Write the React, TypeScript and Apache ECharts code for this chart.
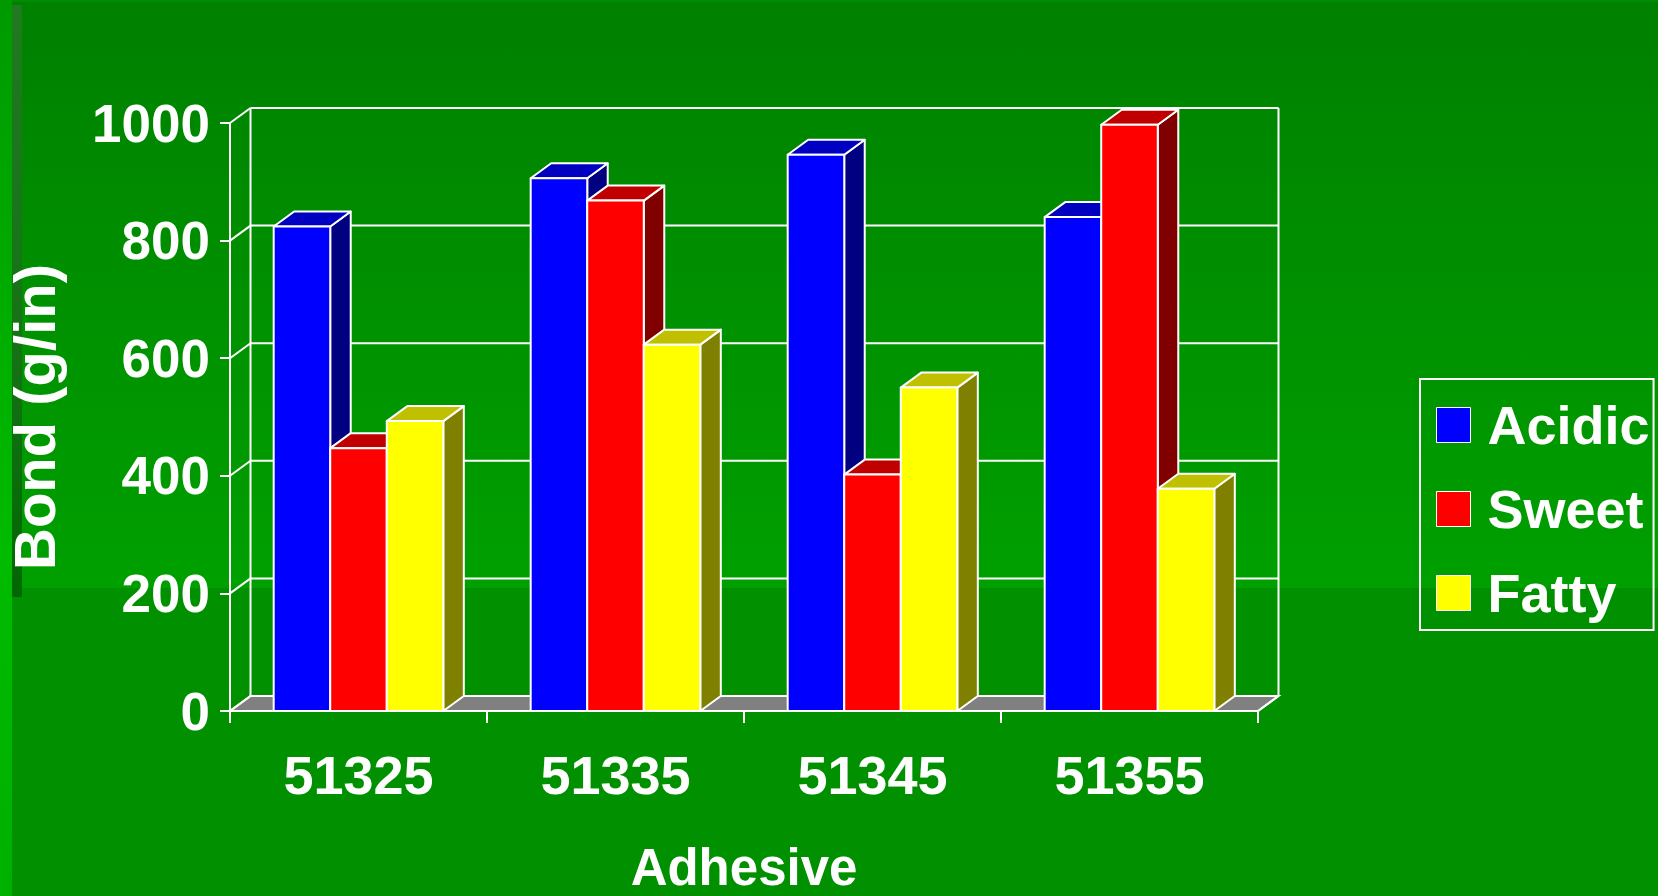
import React, { useEffect, useRef } from "react";
import * as echarts from "echarts";

// ---- data ----
const categories = ["51325", "51335", "51345", "51355"];
const seriesNames = ["Acidic", "Sweet", "Fatty"];
const acidic = [824, 906, 946, 840];
const sweet = [447, 868, 402, 997];
const fatty = [493, 623, 550, 378];
const yTicks = [0, 200, 400, 600, 800, 1000];
const seriesValues = [acidic, sweet, fatty];

// ---- styles ----
const FRONT = ["#0000FF", "#FF0000", "#FFFF00"];
const TOP = ["#0000C0", "#C00000", "#C0C000"];
const SIDE = ["#000080", "#800000", "#808000"];
const DX = 20.5;
const DY = -15;
const BAR_FRAC = 0.22;
const FONT = "'Liberation Sans', Arial, Helvetica, sans-serif";

const lineStyle = { stroke: "#ffffff", lineWidth: 2 };

function frameRender(params: any, api: any) {
  const band = api.size([1, 0])[0];
  const xL = api.coord([0, 0])[0] - band / 2;
  const xR = api.coord([categories.length - 1, 0])[0] + band / 2;
  const y0 = api.coord([0, yTicks[0]])[1];
  const yMax = api.coord([0, yTicks[yTicks.length - 1]])[1];
  const children: any[] = [];
  children.push({
    type: "polygon",
    shape: { points: [[xL, y0], [xR, y0], [xR + DX, y0 + DY], [xL + DX, y0 + DY]] },
    style: { fill: "#808080", ...lineStyle },
  });
  yTicks.forEach((t) => {
    const y = api.coord([0, t])[1];
    children.push({ type: "line", shape: { x1: xL, y1: y, x2: xL + DX, y2: y + DY }, style: lineStyle });
    children.push({ type: "line", shape: { x1: xL + DX, y1: y + DY, x2: xR + DX, y2: y + DY }, style: lineStyle });
  });
  children.push({ type: "line", shape: { x1: xL + DX, y1: y0 + DY, x2: xL + DX, y2: yMax + DY }, style: lineStyle });
  children.push({ type: "line", shape: { x1: xR + DX, y1: y0 + DY, x2: xR + DX, y2: yMax + DY }, style: lineStyle });
  children.push({ type: "line", shape: { x1: xR, y1: y0, x2: xR + DX, y2: y0 + DY }, style: lineStyle });
  return { type: "group", children };
}

const makeBarRender = (s: number) => (params: any, api: any) => {
  const idx = api.value(0);
  const v = api.value(1);
  const top = api.coord([idx, v]);
  const base = api.coord([idx, 0]);
  const band = api.size([1, 0])[0];
  const w = band * BAR_FRAC;
  const x0 = top[0] + (s - 1.5) * w;
  const yT = top[1];
  const yB = base[1];
  const st = { stroke: "#ffffff", lineWidth: 2, lineJoin: "round" };
  return {
    type: "group",
    children: [
      {
        type: "polygon",
        shape: { points: [[x0 + w, yT], [x0 + w + DX, yT + DY], [x0 + w + DX, yB + DY], [x0 + w, yB]] },
        style: { fill: SIDE[s], ...st },
      },
      {
        type: "polygon",
        shape: { points: [[x0, yT], [x0 + w, yT], [x0 + w + DX, yT + DY], [x0 + DX, yT + DY]] },
        style: { fill: TOP[s], ...st },
      },
      {
        type: "rect",
        shape: { x: x0, y: yT, width: w, height: yB - yT },
        style: { fill: FRONT[s], ...st },
      },
    ],
  };
};

export default function App() {
  const ref = useRef<HTMLDivElement>(null);
  useEffect(() => {
    if (!ref.current) return;
    const chart = echarts.init(ref.current, undefined, { renderer: "svg" });
    const textBase = { color: "#ffffff", fontWeight: "bold" as const, fontFamily: FONT };
    const option: any = {
      animation: false,
      backgroundColor: "#009000",
      graphic: {
        elements: [
          {
            type: "rect", z: -10, silent: true,
            shape: { x: 0, y: 0, width: 1658, height: 588 },
            style: {
              fill: new echarts.graphic.LinearGradient(0, 0, 0, 1, [
                { offset: 0, color: "#008000" },
                { offset: 1, color: "#00A000" },
              ]),
            },
          },
          {
            type: "rect", z: -10, silent: true,
            shape: { x: 0, y: 0, width: 1658, height: 2 },
            style: { fill: "#008c00" },
          },
          {
            type: "rect", z: -10, silent: true,
            shape: { x: 0, y: 588, width: 1658, height: 308 },
            style: { fill: "#009000" },
          },
          {
            type: "rect", z: -9, silent: true,
            shape: { x: 0, y: 0, width: 12, height: 896 },
            style: {
              fill: new echarts.graphic.LinearGradient(0, 0, 0, 1, [
                { offset: 0, color: "#009a00" },
                { offset: 0.62, color: "#00bb00" },
                { offset: 1, color: "#00b000" },
              ]),
            },
          },
          {
            type: "rect", z: -9, silent: true,
            shape: { x: 12, y: 5, width: 10, height: 592 },
            style: {
              fill: new echarts.graphic.LinearGradient(0, 0, 0, 1, [
                { offset: 0, color: "#207a20" },
                { offset: 0.6, color: "#147214" },
                { offset: 1, color: "#006800" },
              ]),
            },
          },
        ],
      },
      legend: {
        orient: "vertical",
        left: 1420,
        top: 379,
        selectedMode: false,
        data: seriesNames.map((n, i) => ({
          name: n,
          icon: "rect",
          itemStyle: { color: FRONT[i], borderColor: "#ffffff", borderWidth: 1 },
        })),
        itemWidth: 34,
        itemHeight: 35,
        itemGap: 30,
        padding: [19, 4, 10, 16],
        borderColor: "#ffffff",
        borderWidth: 2,
        textStyle: { ...textBase, fontSize: 54, padding: [0, 0, 0, 12] },
      },
      grid: {
        left: 230,
        top: 123,
        width: 1028,
        height: 588,
        containLabel: false,
        outerBoundsMode: "none",
      },
      xAxis: {
        type: "category",
        data: categories,
        name: "Adhesive",
        nameLocation: "middle",
        nameGap: 131,
        nameTextStyle: { ...textBase, fontSize: 51 },
        axisLine: { show: true, lineStyle: { color: "#ffffff", width: 2 } },
        axisTick: { show: true, length: 12, lineStyle: { color: "#ffffff", width: 2 } },
        axisLabel: { ...textBase, fontSize: 54, margin: 37 },
        splitLine: { show: false },
        z: 5,
      },
      yAxis: {
        type: "value",
        min: 0,
        max: 1000,
        interval: 200,
        name: "Bond (g/in)",
        nameLocation: "middle",
        nameGap: 167,
        nameRotate: 90,
        nameTextStyle: { ...textBase, fontSize: 58 },
        axisLine: { show: true, lineStyle: { color: "#ffffff", width: 2 } },
        axisTick: { show: true, length: 10, lineStyle: { color: "#ffffff", width: 2 } },
        axisLabel: { ...textBase, fontSize: 53, margin: 20, formatter: (v: number) => String(v) },
        splitLine: { show: false },
        z: 5,
      },
      series: [
        {
          type: "custom",
          name: "frame",
          clip: false,
          silent: true,
          z: 1,
          renderItem: frameRender,
          data: [[0, 0]],
          encode: { x: 0, y: 1 },
        },
        ...seriesNames.map((n, s) => ({
          type: "custom",
          name: n,
          clip: false,
          z: 2,
          itemStyle: { color: FRONT[s] },
          renderItem: makeBarRender(s),
          data: seriesValues[s].map((v, i) => [i, v]),
          encode: { x: 0, y: 1 },
        })),
      ],
    };
    chart.setOption(option);
    return () => chart.dispose();
  }, []);
  return (
    <div
      ref={ref}
      style={{ position: "fixed", left: 0, top: 0, width: 1658, height: 896 }}
    />
  );
}
